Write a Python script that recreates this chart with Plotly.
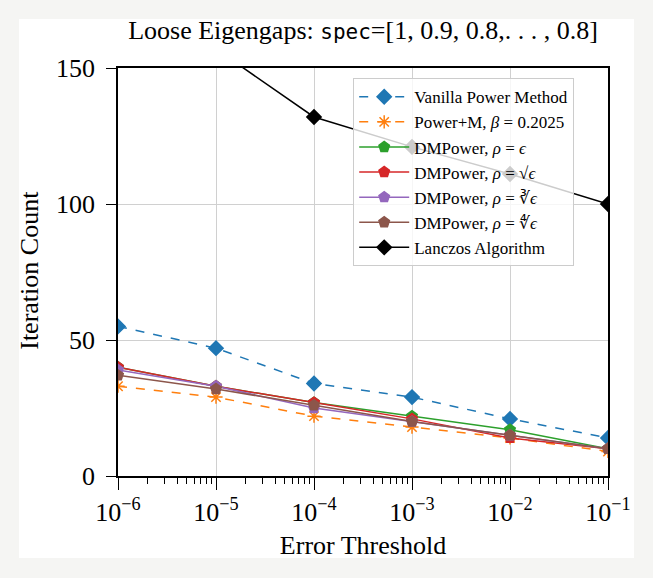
import plotly.graph_objects as go

# error thresholds (x axis)
thresholds = [1e-6, 1e-5, 1e-4, 1e-3, 1e-2, 1e-1]
tick_text = ['10<sup>−6</sup>', '10<sup>−5</sup>', '10<sup>−4</sup>',
             '10<sup>−3</sup>', '10<sup>−2</sup>', '10<sup>−1</sup>']

# iteration counts
vanilla = [55, 47, 34, 29, 21, 14]
power_m = [33, 29, 22, 18, 14, 9]
dm_eps = [40, 33, 27, 22, 17, 10]
dm_sqrt = [40, 33, 27, 21, 14, 10]
dm_cbrt = [39, 33, 25, 20, 15, 10]
dm_4rt = [37, 32, 26, 20, 15, 10]
lanczos = [190, 157, 132, 121, 111, 100]

series = [
    ('Vanilla Power Method', vanilla, '#1f77b4', 'dash', 'diamond'),
    ('Power+M, <i>β</i> = 0.2025', power_m, '#ff7f0e', 'dash', 'asterisk-open'),
    ('DMPower, <i>ρ</i> = <i>ϵ</i>', dm_eps, '#2ca02c', 'solid', 'pentagon'),
    ('DMPower, <i>ρ</i> = √<i>ϵ</i>', dm_sqrt, '#d62728', 'solid', 'pentagon'),
    ('DMPower, <i>ρ</i> = ∛<i>ϵ</i>', dm_cbrt, '#9467bd', 'solid', 'pentagon'),
    ('DMPower, <i>ρ</i> = ∜<i>ϵ</i>', dm_4rt, '#8c564b', 'solid', 'pentagon'),
    ('Lanczos Algorithm', lanczos, '#000000', 'solid', 'diamond'),
]

fig = go.Figure()
for name, vals, color, dash, symbol in series:
    fig.add_trace(go.Scatter(
        x=thresholds, y=vals, name=name, mode='lines+markers',
        line=dict(color=color, width=1.5, dash=dash),
        marker=dict(symbol=symbol, size=11, color=color,
                    line=dict(color=color, width=1.5)),
    ))

serif = 'Liberation Serif'

fig.update_layout(
    width=653, height=578,
    margin=dict(l=118, r=45, t=68, b=102),
    paper_bgcolor='#f5f5f3',
    plot_bgcolor='white',
    font=dict(family=serif, color='black', size=24),
    title=dict(
        text="Loose Eigengaps: <span style=\"font-family:'DejaVu Sans Mono';font-size:21px\">spec</span>=[1, 0.9, 0.8,. . . , 0.8]",
        xref='paper', x=0.5, xanchor='center', y=0.948, yanchor='middle',
        font=dict(size=26, family=serif),
    ),
    legend=dict(
        x=0.48, y=0.975, xanchor='left', yanchor='top',
        bgcolor='rgba(255,255,255,0.8)', bordercolor='#cccccc', borderwidth=1,
        font=dict(size=17, family=serif),
        itemwidth=50,
    ),
    showlegend=True,
    shapes=[dict(type='rect', xref='paper', yref='paper', layer='below',
                 x0=-0.202, x1=1.053, y0=-0.201, y1=1.120,
                 fillcolor='white', line=dict(width=0))],
    annotations=[dict(text='Iteration Count', textangle=-90, showarrow=False,
                      xref='paper', yref='paper', x=-0.18, y=0.505,
                      xanchor='center', yanchor='middle',
                      font=dict(size=26, family=serif))],
)

fig.update_xaxes(
    type='log', range=[-6, -1],
    tickvals=thresholds, ticktext=tick_text,
    ticks='outside', ticklen=12, tickwidth=1.2, tickcolor='black',
    minor=dict(ticks='outside', ticklen=6, tickcolor='black', dtick='D1', showgrid=False),
    showgrid=True, gridcolor='#d0d0d0', gridwidth=1,
    showline=True, linecolor='black', linewidth=1.5, mirror=True,
    zeroline=False,
    title=dict(text='Error Threshold', font=dict(size=26), standoff=10),
    tickfont=dict(size=26),
)
fig.update_yaxes(
    range=[0, 150], tickvals=[0, 50, 100, 150],
    ticks='outside', ticklen=10, tickwidth=1.2, tickcolor='black',
    ticklabelstandoff=6,
    showgrid=True, gridcolor='#d0d0d0', gridwidth=1,
    showline=True, linecolor='black', linewidth=1.5, mirror=True,
    zeroline=False,
    tickfont=dict(size=26),
)

fig.write_html('out.html', config={'displayModeBar': False},
               post_script="document.body.style.margin='0';document.body.style.background='#f5f5f3';")
